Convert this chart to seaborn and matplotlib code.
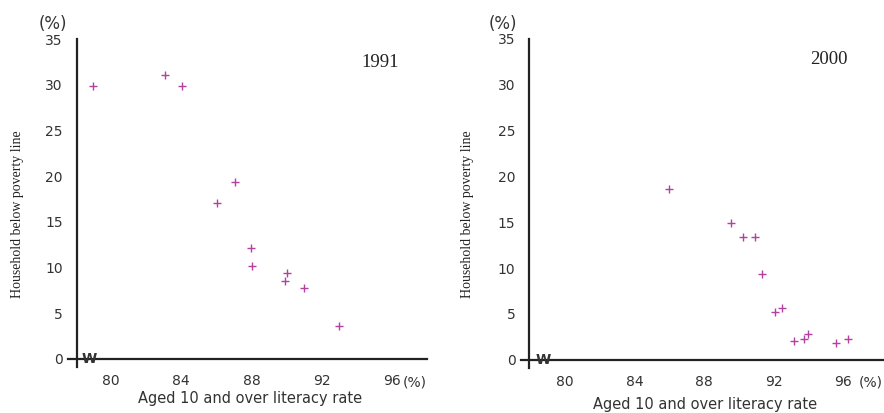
import matplotlib
matplotlib.use("Agg")
import matplotlib.pyplot as plt
import seaborn as sns
import pandas as pd

# literacy rate (%) vs household below poverty line (%)
lit_1991 = [79.0, 83.05, 84.05, 86.05, 87.05, 87.95, 88.05, 89.9, 90.05, 91.0, 93.0]
pov_1991 = [29.9, 31.1, 29.9, 17.1, 19.3, 12.1, 10.1, 8.5, 9.4, 7.8, 3.6]

lit_2000 = [86.0, 89.55, 90.25, 90.95, 91.35, 92.1, 92.5, 93.2, 93.75, 94.0, 95.6, 96.3]
pov_2000 = [18.6, 14.9, 13.4, 13.4, 9.4, 5.2, 5.7, 2.1, 2.3, 2.8, 1.8, 2.3]

x_ticks = [80, 82, 84, 86, 88, 90, 92, 94, 96]
x_labels = ["80", "", "84", "", "88", "", "92", "", "96"]
y_ticks = [0, 5, 10, 15, 20, 25, 30, 35]

panels = [
    ("1991", lit_1991, pov_1991),
    ("2000", lit_2000, pov_2000),
]

sns.set_style("white")
plt.rcParams['font.family'] = ['DejaVu Sans']

fig = plt.figure(figsize=(8.84, 4.13), dpi=100)
# axes boxes in pixels: left, top, right, bottom; plus x limits and spine position
layouts = [
    dict(box=(68, 39, 427, 367), xlim=(77.55, 98.0), spine_x=78.05),
    dict(box=(521, 39, 883, 368), xlim=(77.45, 98.3), spine_x=77.93),
]
marker_color = "#b4419f"

for lay, (year, xs, ys) in zip(layouts, panels):
    l, t, r, b = lay["box"]
    ax = fig.add_axes([l / 884, (413 - b) / 413, (r - l) / 884, (b - t) / 413])
    df = pd.DataFrame({"lit": xs, "pov": ys})
    sns.scatterplot(data=df, x="lit", y="pov", marker="+", color=marker_color,
                    s=32, linewidth=1.0, ax=ax, legend=False)

    ax.set_xlim(*lay["xlim"])
    ax.set_ylim(-0.9, 35)
    for side in ["top", "right"]:
        ax.spines[side].set_visible(False)
    ax.spines["left"].set_position(("data", lay["spine_x"]))
    ax.spines["bottom"].set_position(("data", 0))
    for side in ["left", "bottom"]:
        ax.spines[side].set_linewidth(1.6)
        ax.spines[side].set_color("#222222")

    ax.set_xticks(x_ticks)
    ax.set_xticklabels(x_labels)
    ax.set_yticks(y_ticks)
    ax.tick_params(axis="both", direction="out", length=7, width=1.2,
                   color="#222222", labelsize=10, labelcolor="#333333")
    ax.tick_params(axis="x", pad=4)
    ax.tick_params(axis="y", pad=3)

    # label positions in pixels converted to axes fractions
    def frac(px, py):
        return (px - l) / (r - l), (b - py) / (b - t)

    ax.set_xlabel("")
    ax.set_ylabel("")
    ylab_x = 18 if year == "1991" else 467
    ax.text(*frac(ylab_x, 214), "Household below poverty line", transform=ax.transAxes,
            rotation=90, ha="center", va="center", fontsize=10,
            family="Liberation Serif", color="#222222")
    xlab = (250, 398) if year == "1991" else (705, 405)
    ax.text(*frac(*xlab), "Aged 10 and over literacy rate", transform=ax.transAxes,
            ha="center", va="center", fontsize=10.5, color="#333333")
    top_pct = (53, 24) if year == "1991" else (503, 24)
    ax.text(*frac(*top_pct), "(%)", transform=ax.transAxes, ha="center",
            va="center", fontsize=12, color="#333333")
    right_pct = (427, 383) if year == "1991" else (883, 383)
    ax.text(*frac(*right_pct), "(%)", transform=ax.transAxes, ha="right",
            va="center", fontsize=10, color="#333333")
    yr_pos = (380, 62) if year == "1991" else (829, 60)
    ax.text(*frac(*yr_pos), year, transform=ax.transAxes, ha="center",
            va="center", fontsize=13.5, family="Liberation Serif", color="#222222")
    # axis break mark
    ax.text(78.75, 0, "W", ha="center", va="center", fontsize=10,
            fontweight="bold", color="#333333")

fig.savefig("out.png", dpi=100)
